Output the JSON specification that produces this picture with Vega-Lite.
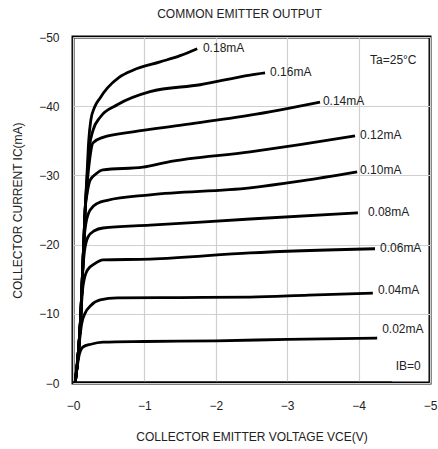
{
  "$schema": "https://vega.github.io/schema/vega-lite/v6.json",
  "width": 357,
  "height": 346,
  "autosize": {"type": "none"},
  "padding": {"left": 73, "top": 37, "right": 8, "bottom": 66},
  "background": "white",
  "title": {"text": "COMMON EMITTER OUTPUT", "fontSize": 12, "fontWeight": "normal", "font": "Liberation Sans", "color": "#222", "offset": 10, "dx": -12},
  "config": {
    "view": {"stroke": "black", "strokeWidth": 3},
    "axis": {"gridColor": "#cfcfcf", "gridWidth": 1.2, "domain": false, "ticks": false, "labelFont": "Liberation Sans", "labelFontSize": 12, "labelColor": "#222", "titleFont": "Liberation Sans", "titleFontSize": 12, "titleFontWeight": "normal", "titleColor": "#222"}
  },
  "datasets": {
    "curves": [
      {"ib": "0", "v": 0, "i": 0}, {"ib": "0", "v": -4.47, "i": 0},
      {"ib": "0.02", "v": -0.03, "i": 0}, {"ib": "0.02", "v": -0.09, "i": -4.2}, {"ib": "0.02", "v": -0.14, "i": -5.2}, {"ib": "0.02", "v": -0.25, "i": -5.6}, {"ib": "0.02", "v": -0.42, "i": -5.9}, {"ib": "0.02", "v": -1.0, "i": -6.0}, {"ib": "0.02", "v": -2.0, "i": -6.1}, {"ib": "0.02", "v": -3.0, "i": -6.3}, {"ib": "0.02", "v": -4.26, "i": -6.5},
      {"ib": "0.04", "v": -0.03, "i": 0}, {"ib": "0.04", "v": -0.08, "i": -5}, {"ib": "0.04", "v": -0.12, "i": -8.5}, {"ib": "0.04", "v": -0.17, "i": -10.1}, {"ib": "0.04", "v": -0.25, "i": -11.2}, {"ib": "0.04", "v": -0.38, "i": -12.0}, {"ib": "0.04", "v": -0.62, "i": -12.3}, {"ib": "0.04", "v": -1.5, "i": -12.35}, {"ib": "0.04", "v": -2.48, "i": -12.4}, {"ib": "0.04", "v": -3.3, "i": -12.7}, {"ib": "0.04", "v": -4.2, "i": -13.0},
      {"ib": "0.06", "v": -0.03, "i": 0}, {"ib": "0.06", "v": -0.08, "i": -5}, {"ib": "0.06", "v": -0.11, "i": -10}, {"ib": "0.06", "v": -0.14, "i": -14}, {"ib": "0.06", "v": -0.2, "i": -16.3}, {"ib": "0.06", "v": -0.3, "i": -17.2}, {"ib": "0.06", "v": -0.42, "i": -17.8}, {"ib": "0.06", "v": -1.08, "i": -17.9}, {"ib": "0.06", "v": -2.48, "i": -18.8}, {"ib": "0.06", "v": -4.23, "i": -19.4},
      {"ib": "0.08", "v": -0.03, "i": 0}, {"ib": "0.08", "v": -0.08, "i": -5}, {"ib": "0.08", "v": -0.11, "i": -10}, {"ib": "0.08", "v": -0.13, "i": -15}, {"ib": "0.08", "v": -0.16, "i": -19}, {"ib": "0.08", "v": -0.21, "i": -21.1}, {"ib": "0.08", "v": -0.3, "i": -22.0}, {"ib": "0.08", "v": -0.42, "i": -22.4}, {"ib": "0.08", "v": -1.08, "i": -22.8}, {"ib": "0.08", "v": -2.48, "i": -23.7}, {"ib": "0.08", "v": -3.99, "i": -24.6},
      {"ib": "0.10", "v": -0.03, "i": 0}, {"ib": "0.10", "v": -0.08, "i": -5}, {"ib": "0.10", "v": -0.11, "i": -10}, {"ib": "0.10", "v": -0.13, "i": -15}, {"ib": "0.10", "v": -0.15, "i": -20}, {"ib": "0.10", "v": -0.18, "i": -23}, {"ib": "0.10", "v": -0.24, "i": -25.0}, {"ib": "0.10", "v": -0.35, "i": -26.0}, {"ib": "0.10", "v": -0.48, "i": -26.4}, {"ib": "0.10", "v": -1.08, "i": -27.2}, {"ib": "0.10", "v": -2.48, "i": -28.2}, {"ib": "0.10", "v": -3.2, "i": -29.2}, {"ib": "0.10", "v": -3.98, "i": -30.5},
      {"ib": "0.12", "v": -0.03, "i": 0}, {"ib": "0.12", "v": -0.08, "i": -5}, {"ib": "0.12", "v": -0.11, "i": -10}, {"ib": "0.12", "v": -0.13, "i": -15}, {"ib": "0.12", "v": -0.15, "i": -20}, {"ib": "0.12", "v": -0.17, "i": -25}, {"ib": "0.12", "v": -0.2, "i": -27.5}, {"ib": "0.12", "v": -0.24, "i": -29.3}, {"ib": "0.12", "v": -0.32, "i": -30.2}, {"ib": "0.12", "v": -0.42, "i": -30.8}, {"ib": "0.12", "v": -0.98, "i": -31.2}, {"ib": "0.12", "v": -1.31, "i": -31.9}, {"ib": "0.12", "v": -2.48, "i": -33.4}, {"ib": "0.12", "v": -3.2, "i": -34.5}, {"ib": "0.12", "v": -3.95, "i": -35.7},
      {"ib": "0.14", "v": -0.03, "i": 0}, {"ib": "0.14", "v": -0.08, "i": -5}, {"ib": "0.14", "v": -0.11, "i": -10}, {"ib": "0.14", "v": -0.13, "i": -15}, {"ib": "0.14", "v": -0.15, "i": -20}, {"ib": "0.14", "v": -0.17, "i": -25}, {"ib": "0.14", "v": -0.2, "i": -29}, {"ib": "0.14", "v": -0.23, "i": -32}, {"ib": "0.14", "v": -0.28, "i": -34.7}, {"ib": "0.14", "v": -0.42, "i": -35.5}, {"ib": "0.14", "v": -0.84, "i": -36.3}, {"ib": "0.14", "v": -1.54, "i": -37.3}, {"ib": "0.14", "v": -2.48, "i": -38.7}, {"ib": "0.14", "v": -3.46, "i": -40.6},
      {"ib": "0.16", "v": -0.03, "i": 0}, {"ib": "0.16", "v": -0.08, "i": -5}, {"ib": "0.16", "v": -0.11, "i": -10}, {"ib": "0.16", "v": -0.13, "i": -15}, {"ib": "0.16", "v": -0.15, "i": -20}, {"ib": "0.16", "v": -0.17, "i": -25}, {"ib": "0.16", "v": -0.2, "i": -30}, {"ib": "0.16", "v": -0.23, "i": -34}, {"ib": "0.16", "v": -0.28, "i": -36.5}, {"ib": "0.16", "v": -0.38, "i": -38.4}, {"ib": "0.16", "v": -0.62, "i": -40.2}, {"ib": "0.16", "v": -1.08, "i": -42.1}, {"ib": "0.16", "v": -1.78, "i": -43.1}, {"ib": "0.16", "v": -2.48, "i": -44.5}, {"ib": "0.16", "v": -2.69, "i": -44.8},
      {"ib": "0.18", "v": -0.03, "i": 0}, {"ib": "0.18", "v": -0.08, "i": -5}, {"ib": "0.18", "v": -0.11, "i": -10}, {"ib": "0.18", "v": -0.13, "i": -15}, {"ib": "0.18", "v": -0.15, "i": -20}, {"ib": "0.18", "v": -0.17, "i": -25}, {"ib": "0.18", "v": -0.2, "i": -31}, {"ib": "0.18", "v": -0.22, "i": -35}, {"ib": "0.18", "v": -0.25, "i": -38}, {"ib": "0.18", "v": -0.3, "i": -39.8}, {"ib": "0.18", "v": -0.38, "i": -41.2}, {"ib": "0.18", "v": -0.48, "i": -42.6}, {"ib": "0.18", "v": -0.65, "i": -44.2}, {"ib": "0.18", "v": -0.84, "i": -45.2}, {"ib": "0.18", "v": -1.22, "i": -46.4}, {"ib": "0.18", "v": -1.5, "i": -47.3}, {"ib": "0.18", "v": -1.74, "i": -48.3}
    ],
    "labels": [
      {"t": "0.18mA", "v": -1.82, "i": -48.4},
      {"t": "0.16mA", "v": -2.76, "i": -44.9},
      {"t": "0.14mA", "v": -3.5, "i": -40.8},
      {"t": "0.12mA", "v": -4.02, "i": -35.8},
      {"t": "0.10mA", "v": -4.02, "i": -30.8},
      {"t": "0.08mA", "v": -4.13, "i": -24.7},
      {"t": "0.06mA", "v": -4.3, "i": -19.5},
      {"t": "0.04mA", "v": -4.27, "i": -13.4},
      {"t": "0.02mA", "v": -4.33, "i": -7.8},
      {"t": "Ta=25°C", "v": -4.16, "i": -46.7},
      {"t": "IB=0", "v": -4.52, "i": -2.5}
    ]
  },
  "layer": [
    {
      "data": {"name": "curves"},
      "mark": {"type": "line", "color": "black", "strokeWidth": 2.8, "interpolate": "monotone", "clip": true},
      "encoding": {
        "x": {"field": "v", "type": "quantitative", "scale": {"domain": [0, -5], "nice": false},
          "axis": {"title": "COLLECTOR EMITTER VOLTAGE VCE(V)", "values": [0, -0.5, -1, -1.5, -2, -2.5, -3, -3.5, -4, -4.5, -5], "labelExpr": "datum.value % 1 == 0 ? '−' + abs(datum.value) : ''", "labelPadding": 17, "titlePadding": 20, "labelFlush": false}},
        "y": {"field": "i", "type": "quantitative", "scale": {"domain": [0, -50], "nice": false},
          "axis": {"title": "COLLECTOR CURRENT IC(mA)", "values": [0, -5, -10, -15, -20, -25, -30, -35, -40, -45, -50], "labelExpr": "datum.value % 10 == 0 ? '−' + abs(datum.value) : ''", "labelPadding": 14, "titlePadding": 14, "labelFlush": false}},
        "detail": {"field": "ib"}
      }
    },
    {
      "data": {"name": "labels"},
      "mark": {"type": "text", "align": "left", "baseline": "middle", "font": "Liberation Sans", "fontSize": 12, "color": "#222"},
      "encoding": {
        "x": {"field": "v", "type": "quantitative"},
        "y": {"field": "i", "type": "quantitative"},
        "text": {"field": "t"}
      }
    }
  ]
}
